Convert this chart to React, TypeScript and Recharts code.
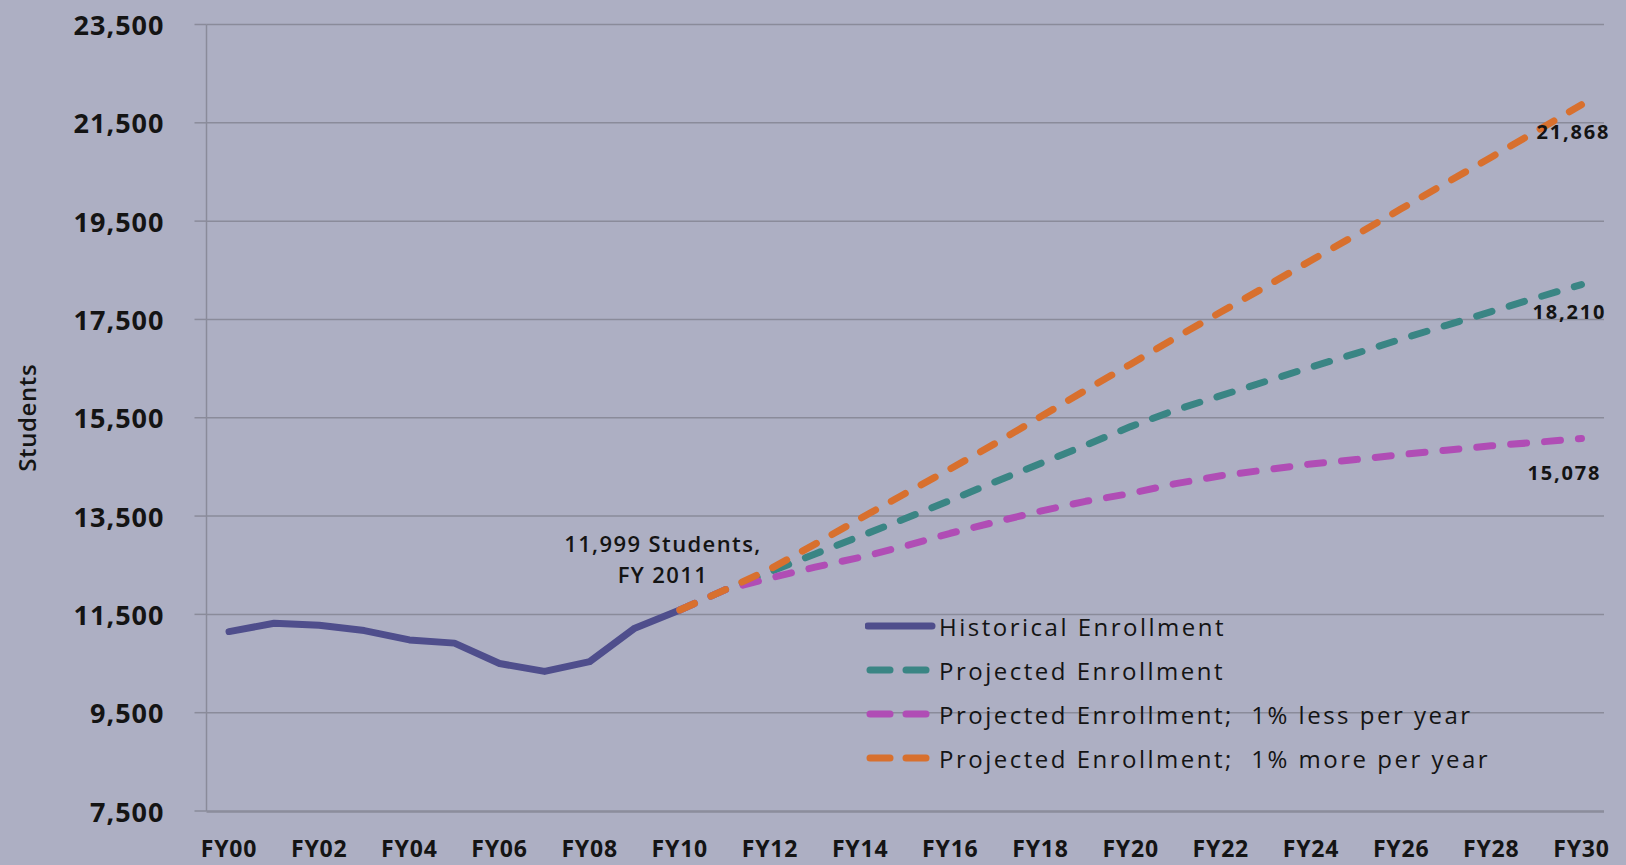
import React from "react";
import { LineChart, Line, XAxis, YAxis, CartesianGrid, Legend, LabelList } from "recharts";

const fiscalYears = [
  "FY00", "FY01", "FY02", "FY03", "FY04", "FY05", "FY06", "FY07", "FY08", "FY09", "FY10",
  "FY11", "FY12", "FY13", "FY14", "FY15", "FY16", "FY17", "FY18", "FY19", "FY20",
  "FY21", "FY22", "FY23", "FY24", "FY25", "FY26", "FY27", "FY28", "FY29", "FY30",
];

// FY00 - FY10
const historical = [11150, 11320, 11280, 11170, 10980, 10915, 10500, 10340, 10540, 11220, 11590];

// FY10 - FY30 (FY10 repeats the last actual year so the projections join the history)
const projected = [
  11590, 11999, 12365, 12730, 13090, 13450, 13820, 14200, 14570, 14940, 15320,
  15660, 15950, 16240, 16530, 16810, 17100, 17380, 17660, 17940, 18210,
];
const projectedLow = [
  11590, 11999, 12240, 12460, 12660, 12890, 13150, 13380, 13600, 13800, 13960,
  14160, 14320, 14440, 14560, 14650, 14750, 14840, 14930, 15000, 15078,
];
const projectedHigh = [
  11590, 11999, 12420, 12930, 13450, 13960, 14460, 14980, 15520, 16060, 16590,
  17130, 17650, 18170, 18700, 19220, 19750, 20280, 20800, 21330, 21868,
];

const yTicks = [7500, 9500, 11500, 13500, 15500, 17500, 19500, 21500, 23500];
const labelYears = ["FY00", "FY02", "FY04", "FY06", "FY08", "FY10", "FY12", "FY14", "FY16", "FY18", "FY20", "FY22", "FY24", "FY26", "FY28", "FY30"];

const PROJECTION_START = fiscalYears.indexOf("FY10");
const ANNOTATED_YEAR = fiscalYears.indexOf("FY11");

const rows = fiscalYears.map((label, i) => ({
  x: i,
  label,
  historical: i <= PROJECTION_START ? historical[i] : null,
  projected: i >= PROJECTION_START ? projected[i - PROJECTION_START] : null,
  projectedLow: i >= PROJECTION_START ? projectedLow[i - PROJECTION_START] : null,
  projectedHigh: i >= PROJECTION_START ? projectedHigh[i - PROJECTION_START] : null,
}));

const labelTicks = labelYears.map((y) => fiscalYears.indexOf(y));
// tick marks sit on the boundaries between years
const boundaryTicks = [...fiscalYears.map((_, i) => i - 0.5), fiscalYears.length - 0.5];

const BG = "#ADAFC3";
const GRID = "#8A8B9A";
const FONT = "'Open Sans', sans-serif";
const INK = "#141414";
const DASH = "16 18";

const series = [
  { key: "historical", name: "Historical Enrollment", color: "#4F4E8C", dash: undefined as string | undefined },
  { key: "projected", name: "Projected Enrollment", color: "#3A8584", dash: DASH },
  { key: "projectedLow", name: "Projected Enrollment;  1% less per year", color: "#B04DB5", dash: DASH },
  { key: "projectedHigh", name: "Projected Enrollment;  1% more per year", color: "#D8702E", dash: DASH },
];

const fmt = (v: number) => v.toLocaleString("en-US");

const endLabel = (dx: number, dy: number) => (props: any) => {
  const { x, y, value, index } = props;
  if (index !== fiscalYears.length - 1 || value == null) return null;
  return (
    <text x={x + dx} y={y + dy} textAnchor="middle" dominantBaseline="central"
      fontFamily={FONT} fontWeight={700} fontSize={20} letterSpacing={1.8} fill={INK}>
      {fmt(value)}
    </text>
  );
};

const firstProjectionNote = (props: any) => {
  const { x, y, value, index } = props;
  if (index !== ANNOTATED_YEAR) return null;
  return (
    <text textAnchor="middle" fontFamily={FONT} fontWeight={600} fontSize={22} letterSpacing={1.4} fill={INK}>
      <tspan x={x - 62} y={y - 47} dominantBaseline="central">{fmt(value)} Students,</tspan>
      <tspan x={x - 62} y={y - 16} dominantBaseline="central">FY 2011</tspan>
    </text>
  );
};

const YearTick = (props: any) => {
  const { x, y, payload } = props;
  return (
    <text x={x} y={y + 37} textAnchor="middle" dominantBaseline="central"
      fontFamily={FONT} fontWeight={700} fontSize={23} letterSpacing={0.8} fill={INK}>
      {fiscalYears[payload.value]}
    </text>
  );
};

const StudentTick = (props: any) => {
  const { x, y, payload } = props;
  return (
    <text x={x} y={y} textAnchor="end" dominantBaseline="central"
      fontFamily={FONT} fontWeight={700} fontSize={27} letterSpacing={1} fill={INK}>
      {fmt(payload.value)}
    </text>
  );
};

const StudentsLabel = (props: any) => {
  const { viewBox } = props;
  const cx = 26;
  const cy = viewBox.y + viewBox.height / 2;
  return (
    <text x={cx} y={cy} transform={`rotate(-90, ${cx}, ${cy})`} textAnchor="middle" dominantBaseline="central"
      fontFamily={FONT} fontWeight={600} fontSize={24} letterSpacing={0.6} fill={INK}>
      Students
    </text>
  );
};

const LegendBox = () => (
  <div style={{ fontFamily: FONT, fontSize: 24, letterSpacing: 2.5, color: INK }}>
    {series.map((s) => (
      <div key={s.key} style={{ display: "flex", alignItems: "center", height: 44, whiteSpace: "pre" }}>
        <svg width={72} height={44} style={{ display: "block" }}>
          {s.dash ? (
            <>
              <line x1={5} y1={22} x2={25} y2={22} stroke={s.color} strokeWidth={7} strokeLinecap="round" />
              <line x1={41} y1={22} x2={61} y2={22} stroke={s.color} strokeWidth={7} strokeLinecap="round" />
            </>
          ) : (
            <line x1={3} y1={22} x2={67} y2={22} stroke={s.color} strokeWidth={7} strokeLinecap="round" />
          )}
        </svg>
        <span style={{ marginLeft: 2 }}>{s.name}</span>
      </div>
    ))}
  </div>
);

export default function App() {
  return (
    <div style={{ width: 1626, height: 865, background: BG }}>
      <style>{`html, body { margin: 0; padding: 0; background: ${BG}; }`}</style>
      <LineChart width={1626} height={865} data={rows} margin={{ top: 24.5, right: 22, bottom: 52, left: 0 }}>
        <CartesianGrid vertical={false} stroke={GRID} strokeWidth={1.5} />
        <XAxis xAxisId="marks" dataKey="x" type="number" domain={[-0.5, fiscalYears.length - 0.5]} ticks={boundaryTicks}
          interval={0} height={1} tick={false} tickSize={10} stroke={GRID} axisLine={{ stroke: GRID, strokeWidth: 1.5 }}
          tickLine={{ stroke: GRID, strokeWidth: 1.5 }} />
        <XAxis dataKey="x" type="number" domain={[-0.5, fiscalYears.length - 0.5]} ticks={labelTicks}
          interval={0} height={1} axisLine={false} tickLine={false} tickSize={0} tickMargin={0} tick={<YearTick />} />
        <YAxis type="number" domain={[7500, 23500]} ticks={yTicks} interval={0} width={206.5}
          axisLine={{ stroke: GRID, strokeWidth: 1.5 }} tickLine={{ stroke: GRID, strokeWidth: 1.5 }}
          tickSize={12} tickMargin={30} tick={<StudentTick />} label={<StudentsLabel />} />
        <Legend layout="vertical" verticalAlign="middle" align="center" content={<LegendBox />}
          wrapperStyle={{ left: 865, top: 604, width: 740 }} />
        {series.map((s) => (
          <Line key={s.key} dataKey={s.key} name={s.name} stroke={s.color} strokeWidth={7}
            strokeDasharray={s.dash} strokeLinecap="round" strokeLinejoin="round" dot={false}
            activeDot={false} isAnimationActive={false} type="linear">
            {s.key === "projected" && <LabelList dataKey={s.key} content={endLabel(-12, 27)} />}
            {s.key === "projectedLow" && <LabelList dataKey={s.key} content={endLabel(-17, 34)} />}
            {s.key === "projectedHigh" && <LabelList dataKey={s.key} content={endLabel(-8, 27)} />}
            {s.key === "projectedHigh" && <LabelList dataKey={s.key} content={firstProjectionNote} />}
          </Line>
        ))}
      </LineChart>
    </div>
  );
}
